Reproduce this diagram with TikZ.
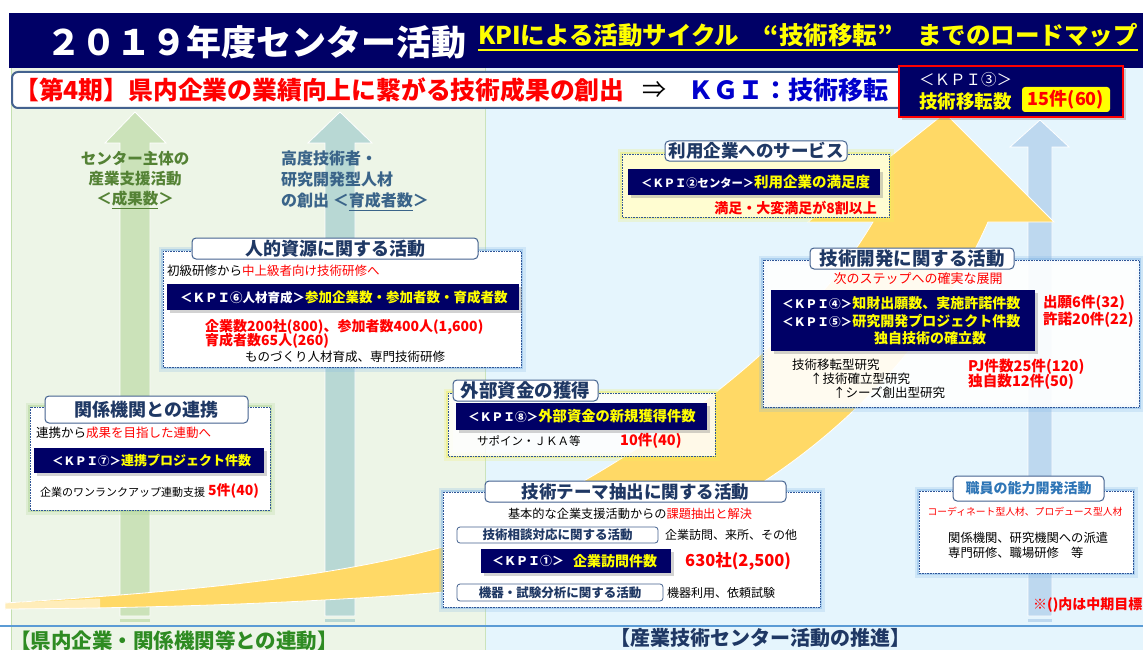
\documentclass[tikz,border=0pt]{standalone}
\usepackage{fontspec}
\setmainfont{Noto Sans CJK JP}
\usetikzlibrary{shadows}
\definecolor{navy}{HTML}{000066}
\definecolor{ttl}{HTML}{1F3864}
\definecolor{bgblue}{HTML}{E5F5FD}
\definecolor{bggreen}{HTML}{EDF5E7}
\definecolor{yel}{HTML}{FFD966}
\definecolor{arrgreen}{HTML}{CBE2B9}
\definecolor{arrteal}{HTML}{B8D8D4}
\definecolor{arrblue}{HTML}{BDD8EF}
\definecolor{glowblue}{HTML}{7FB5E6}
\definecolor{glowgreen}{HTML}{A9D18E}
\definecolor{glowyel}{HTML}{F2F05A}
\definecolor{dotb}{HTML}{2F5597}
\definecolor{tabb}{HTML}{44628F}
\definecolor{kgiblue}{HTML}{0000CC}
\definecolor{gtxt}{HTML}{548235}
\definecolor{ttxt}{HTML}{3A6489}
\definecolor{bgreen}{HTML}{2E8B22}
\definecolor{kyel}{HTML}{FFFF00}
\definecolor{rd}{HTML}{FF0000}
\definecolor{sepline}{HTML}{5B9BD5}
\definecolor{stafftxt}{HTML}{2E75B6}
\newcommand\fsz[2]{\fontsize{#1}{#2}\selectfont}
\newcommand\gbox[6]{%
  \draw[#1, line width=9pt, opacity=0.22] (#3,#4) rectangle (#5,#6);
  \draw[#1, line width=4.5pt, opacity=0.45] (#3,#4) rectangle (#5,#6);
  \fill[#2] (#3,#4) rectangle (#5,#6);
  \draw[dotbox] (#3,#4) rectangle (#5,#6);}
\tikzset{
  tx/.style={inner sep=0pt, anchor=west},
  tc/.style={inner sep=0pt, anchor=center},
  tabnode/.style={draw=tabb, line width=1pt, fill=white, rounded corners=4pt, inner sep=0pt, text=ttl},
  kpibar/.style={fill=navy, drop shadow={shadow xshift=2.5pt, shadow yshift=-2.5pt, opacity=0.35}},
  dotbox/.style={draw=dotb, line width=0.6pt, densely dotted},
  bigarrow/.style={draw=white, line width=0.8pt},
}
\begin{document}
\begin{tikzpicture}[x=1pt,y=-1pt]
\useasboundingbox (0,0) rectangle (1143,650);
% backgrounds
\fill[white] (0,0) rectangle (1143,650);
\fill[bggreen] (11,68) rectangle (485,650);
\fill[bgblue] (485,68) rectangle (1143,650);
\draw[glowgreen!70, line width=0.8pt] (11,68) -- (11,650);
\draw[glowgreen!60, line width=0.6pt] (485,68) -- (485,650);
\draw[sepline, line width=1.5pt] (0,626) -- (1143,626);

% vertical arrows
\draw[bigarrow, fill=arrgreen] (120,616) -- (120,143) -- (105,143) -- (135,112) -- (166,143) -- (150,143) -- (150,616) -- cycle;
\fill[arrgreen] (120,619) rectangle (150,622);
\draw[bigarrow, fill=arrteal] (325,616) -- (325,143) -- (308,143) -- (340,112) -- (372,143) -- (355,143) -- (355,616) -- cycle;
\fill[arrteal] (325,619) rectangle (355,622);
\draw[bigarrow, fill=arrblue] (1028,616) -- (1028,147) -- (1010,147) -- (1040,120) -- (1069,147) -- (1052,147) -- (1052,616) -- cycle;
\fill[arrblue] (1028,619) rectangle (1052,622);

% big curved yellow arrow
\draw[bigarrow, fill=yel] (5,603) .. controls (200,591) and (340,576) .. (450,545)
  .. controls (560,505) and (780,380) .. (873,222) -- (808,222) -- (945,113) -- (1054,222) -- (988,222)
  .. controls (900,420) and (700,560) .. (470,590) .. controls (300,604) and (150,608) .. (5,609) -- cycle;
\fill[white, opacity=0.55] (5,603) .. controls (40,601.5) and (70,600) .. (100,598.5) -- (100,608.5) .. controls (70,609) and (40,609) .. (5,609) -- cycle;

% arrow labels
\node[tc, align=center, text=gtxt, font=\fsz{15.5}{20}\bfseries] (lblA) at (135,180) {センター主体の\\産業支援活動\\＜\underline{成果数}＞};
\node[tx, align=left, text=ttxt, font=\fsz{16}{21}\bfseries] (lblB) at (281,181) {高度技術者・\\研究開発型人材\\の創出 ＜\underline{育成者数}＞};

% ===== 人的資源に関する活動
\gbox{glowblue}{white}{163}{251}{521}{367}
\node[tabnode, minimum width=286pt, minimum height=21pt, font=\fsz{18}{18}\bfseries] (tabA) at (335,248.5) {人的資源に関する活動};
\node[tx, font=\fsz{12.5}{12.5}] (subA) at (167,271) {初級研修から\textcolor{rd}{中上級者向け技術研修へ}};
\fill[kpibar] (167,284) rectangle (519,310);
\node[tx, text=white, font=\fsz{12.5}{12.5}\bfseries] (kpi6) at (180,297) {＜ＫＰＩ⑥人材育成＞\textcolor{kyel}{\fsz{13.5}{13.5}参加企業数・参加者数・育成者数}};
\node[tx, text=rd, font=\fsz{14}{14}\bfseries] (resA1) at (205,327) {企業数200社(800)、参加者数400人(1,600)};
\node[tx, text=rd, font=\fsz{14}{14}\bfseries] (resA2) at (205,341) {育成者数65人(260)};
\node[tc, font=\fsz{12.5}{12.5}] (resA3) at (345,357) {ものづくり人材育成、専門技術研修};

% ===== 関係機関との連携
\gbox{glowgreen}{white}{30}{407}{270}{510}
\node[tabnode, minimum width=203pt, minimum height=27pt, font=\fsz{18}{18}\bfseries] (tabB) at (146.5,409.5) {関係機関との連携};
\node[tx, font=\fsz{12.5}{12.5}] (subB) at (36,433) {連携から\textcolor{rd}{成果を目指した連動へ}};
\fill[kpibar] (34,448) rectangle (264,473);
\node[tx, text=white, font=\fsz{11.5}{11.5}\bfseries] (kpi7) at (52,460.5) {＜ＫＰＩ⑦＞\textcolor{kyel}{\fsz{13}{13}連携プロジェクト件数}};
\node[tx, font=\fsz{11}{11}] (resB1) at (40,492) {企業のワンランクアップ連動支援};
\node[tx, text=rd, font=\fsz{14}{14}\bfseries] (resB2) at (208,491) {5件(40)};

% ===== 利用企業へのサービス
\gbox{glowyel}{yellow!18}{622}{154}{889}{217}
\node[tabnode, minimum width=182pt, minimum height=20pt, font=\fsz{17.5}{17.5}\bfseries] (tabC) at (756,151) {利用企業へのサービス};
\fill[kpibar] (628,169) rectangle (880,195);
\node[tx, text=white, font=\fsz{11.3}{11.3}\bfseries] (kpi2) at (641,182) {＜ＫＰＩ②センター＞\textcolor{kyel}{\fsz{14.5}{14.5}利用企業の満足度}};
\node[inner sep=0pt, anchor=east, text=rd, font=\fsz{14}{14}\bfseries] (resC) at (877,208) {満足・大変満足が8割以上};

% ===== 外部資金の獲得
\gbox{glowyel}{white, opacity=0.85}{448}{393}{715}{456}
\node[tabnode, minimum width=145pt, minimum height=21pt, font=\fsz{18.5}{18.5}\bfseries] (tabD) at (525.5,390.5) {外部資金の獲得};
\fill[kpibar] (456,403) rectangle (707,430);
\node[tx, text=white, font=\fsz{11.7}{11.7}\bfseries] (kpi8) at (468,416.5) {＜ＫＰＩ⑧＞\textcolor{kyel}{\fsz{14.3}{14.3}外部資金の新規獲得件数}};
\node[tx, font=\fsz{11.5}{11.5}] (resD1) at (477,441) {サポイン・ＪＫＡ等};
\node[tx, text=rd, font=\fsz{14.5}{14.5}\bfseries] (resD2) at (620,441) {10件(40)};

% ===== 技術テーマ抽出に関する活動
\gbox{glowblue}{white}{443}{492}{820}{607}
\node[tabnode, minimum width=301pt, minimum height=21pt, font=\fsz{17.5}{17.5}\bfseries] (tabE) at (635.5,491.5) {技術テーマ抽出に関する活動};
\node[tc, font=\fsz{12.2}{12.2}] (subE) at (630,514) {基本的な企業支援活動からの\textcolor{rd}{課題抽出と解決}};
\node[tabnode, rounded corners=3pt, line width=0.8pt, minimum width=201pt, minimum height=16pt, font=\fsz{12.5}{12.5}\bfseries] (subtabE1) at (557.5,535) {技術相談対応に関する活動};
\node[tx, font=\fsz{12}{12}] (resE1) at (665,535) {企業訪問、来所、その他};
\fill[kpibar] (481,549) rectangle (671,573);
\node[tx, text=white, font=\fsz{12}{12}\bfseries] (kpi1) at (492,561) {＜ＫＰＩ①＞};
\node[tx, text=kyel, font=\fsz{14}{14}\bfseries] (kpi1b) at (573,561) {企業訪問件数};
\node[tx, text=rd, font=\fsz{16.5}{16.5}\bfseries] (resE2) at (685,561) {630社(2,500)};
\node[tabnode, rounded corners=3pt, line width=0.8pt, minimum width=206pt, minimum height=17pt, font=\fsz{12.5}{12.5}\bfseries] (subtabE2) at (560,592.5) {機器・試験分析に関する活動};
\node[tx, font=\fsz{12}{12}] (resE3) at (667,593) {機器利用、依頼試験};

% ===== 技術開発に関する活動
\gbox{glowblue}{white, opacity=0.9}{763}{260}{1139}{407}
\node[tabnode, minimum width=204pt, minimum height=21pt, font=\fsz{18.5}{18.5}\bfseries] (tabF) at (912,258.5) {技術開発に関する活動};
\node[tc, text=rd, font=\fsz{13}{13}] (subF) at (918,279) {次のステップへの確実な展開};
\fill[kpibar] (771,290) rectangle (1035,351);
\node[tx, text=white, font=\fsz{11.7}{11.7}\bfseries] (kpi4) at (782,303) {＜ＫＰＩ④＞\textcolor{kyel}{\fsz{14}{14}知財出願数、実施許諾件数}};
\node[tx, text=white, font=\fsz{11.7}{11.7}\bfseries] (kpi5) at (782,321) {＜ＫＰＩ⑤＞\textcolor{kyel}{\fsz{14}{14}研究開発プロジェクト件数}};
\node[tc, text=kyel, font=\fsz{14}{14}\bfseries] (kpi5b) at (930,338) {独自技術の確立数};
\node[tx, text=rd, font=\fsz{14.5}{14.5}\bfseries] (resF1) at (1043,303) {出願6件(32)};
\node[tx, text=rd, font=\fsz{14.5}{14.5}\bfseries] (resF2) at (1043,320) {許諾20件(22)};
\node[tx, font=\fsz{12.5}{12.5}] (resF3) at (792,365) {技術移転型研究};
\node[tx, font=\fsz{12.5}{12.5}] (resF4) at (810,379) {↑技術確立型研究};
\node[tx, font=\fsz{12.5}{12.5}] (resF5) at (833,393) {↑シーズ創出型研究};
\node[tx, text=rd, font=\fsz{14.6}{14.6}\bfseries] (resF6) at (968,367) {PJ件数25件(120)};
\node[tx, text=rd, font=\fsz{14.6}{14.6}\bfseries] (resF7) at (968,382) {独自数12件(50)};

% ===== 職員の能力開発活動
\gbox{glowblue}{white}{919}{491}{1133}{573}
\node[tabnode, minimum width=151pt, minimum height=25pt, text=stafftxt, font=\fsz{14}{14}\bfseries] (tabG) at (1028.5,488.5) {職員の能力開発活動};
\node[tc, text=rd, font=\fsz{9.8}{9.8}] (subG) at (1025,512) {コーディネート型人材、プロデュース型人材};
\node[tx, font=\fsz{12.3}{12.3}] (resG1) at (948,538) {関係機関、研究機関への派遣};
\node[tx, font=\fsz{12.3}{12.3}] (resG2) at (948,553) {専門研修、職場研修　等};

\node[tx, text=rd, font=\fsz{14}{14}\bfseries] (note) at (1033,605) {※()内は中期目標};

% bottom labels
\node[tx, text=bgreen, font=\fsz{20.5}{20.5}\bfseries] (botL) at (10,641) {【県内企業・関係機関等との連動】};
\node[tc, text=ttl, font=\fsz{20}{20}\bfseries] (botR) at (760,638) {【産業技術センター活動の推進】};

% ===== title bar
\fill[navy] (9,13) rectangle (1143,68);
\node[tx, text=white, font=\fsz{35}{35}\bfseries] (title) at (46,42) {２０１９年度センター活動};
\node[tx, text=kyel, font=\fsz{24.5}{24.5}\bfseries] (subtitle) at (478,35) {KPIによる活動サイクル　“技術移転”　までのロードマップ};
\draw[kyel, line width=1.2pt] ([yshift=-3pt]subtitle.south west) -- ([yshift=-3pt]subtitle.south east);

% banner
\draw[draw=tabb, line width=2pt, fill=white, rounded corners=6pt] (12,72) rectangle (904,108);
\node[tx, text=rd, font=\fsz{24.8}{24.8}\bfseries] (bn1) at (14,90) {【第4期】県内企業の業績向上に繋がる技術成果の創出};
\node[tx, font=\fsz{24}{24}] (bn2) at (642,90) {⇒};
\node[tx, text=kgiblue, font=\fsz{25}{25}\bfseries] (bn3) at (688,90) {ＫＧＩ：技術移転};

% KPI3 box
\draw[fill=navy, draw=red, line width=2.5pt, drop shadow={shadow xshift=3pt, shadow yshift=-3pt, opacity=0.35}] (899,66) rectangle (1123,117);
\node[tx, text=white, font=\fsz{15.5}{15.5}] (k3a) at (919,80) {＜ＫＰＩ③＞};
\node[tx, text=kyel, font=\fsz{18.5}{18.5}\bfseries] (k3b) at (919,102) {技術移転数};
\node[fill=kyel, rounded corners=3pt, minimum width=88pt, minimum height=25pt, inner sep=0pt, text=rd, font=\fsz{18}{18}\bfseries] (k3c) at (1066,99.5) {15件(60)};
\end{tikzpicture}
\end{document}
